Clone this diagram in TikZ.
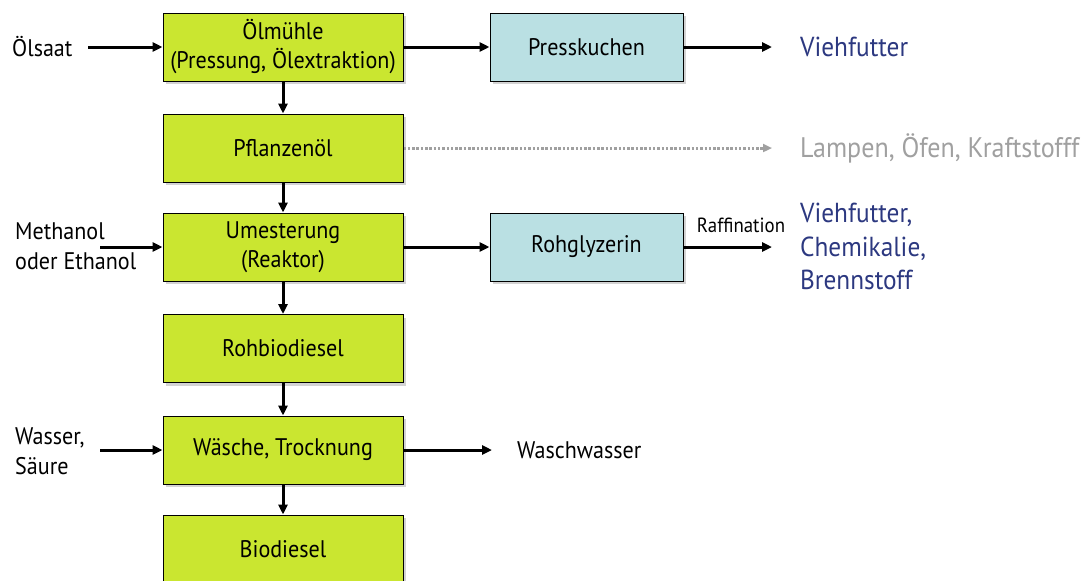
\documentclass[tikz,border=0pt]{standalone}
\usepackage{fontspec}
\setmainfont{PT Sans}[FakeStretch=0.92]
\usetikzlibrary{shadows,arrows.meta}
\definecolor{boxgreen}{RGB}{202,230,48}
\definecolor{boxblue}{RGB}{186,224,227}
\definecolor{outblue}{RGB}{44,56,128}
\definecolor{dotgray}{RGB}{160,160,160}
\tikzset{
  proc/.style={draw=black, line width=1pt, fill=boxgreen, minimum width=240pt, minimum height=68pt, align=center, font=\fontsize{24}{29}\selectfont, drop shadow={shadow xshift=3pt, shadow yshift=-3pt, opacity=0.35}},
  side/.style={draw=black, line width=1pt, fill=boxblue, minimum width=193pt, minimum height=68pt, align=center, font=\fontsize{24}{29}\selectfont, drop shadow={shadow xshift=3pt, shadow yshift=-3pt, opacity=0.35}},
  lbl/.style={align=left, font=\fontsize{24}{30}\selectfont, inner sep=0pt},
  outl/.style={align=left, font=\fontsize{27.5}{33.5}\selectfont, text=outblue, anchor=west, inner sep=0pt},
  flow/.style={line width=3pt, -{Triangle[length=10pt,width=9pt]}},
  dotflow/.style={line width=3pt, dotgray, dash pattern=on 2.5pt off 1.8pt, -{Triangle[length=9pt,width=8pt]}},
}
\begin{document}
\begin{tikzpicture}[x=1pt,y=-1pt]
\useasboundingbox (0,0) rectangle (1088,581);
\node[proc] (olm) at (283,47) {Ölmühle\\(Pressung, Ölextraktion)};
\node[proc] (pfl) at (283,148) {Pflanzenöl};
\node[proc] (ume) at (283,247) {Umesterung\\(Reaktor)};
\node[proc] (roh) at (283,348.5) {Rohbiodiesel};
\node[proc] (was) at (283,450) {Wäsche, Trocknung};
\node[proc] (bio) at (283,549) {Biodiesel};
\node[side] (pre) at (586.5,47) {Presskuchen};
\node[side] (gly) at (586.5,247) {Rohglyzerin};

\node[lbl, anchor=west] (olsaat) at (12,47) {Ölsaat};
\node[lbl, anchor=west] (meth) at (15,246) {Methanol\\oder Ethanol};
\node[lbl, anchor=west] (wass) at (15,451) {Wasser,\\Säure};
\node[lbl, anchor=west] (wwas) at (517,450) {Waschwasser};
\node[outl] (vieh1) at (800,47) {Viehfutter};
\node[outl, text=dotgray, font=\fontsize{28.3}{33.5}\selectfont] (lamp) at (800,148) {Lampen, Öfen, Kraftstofff};
\node[outl, anchor=north west] (vieh2) at (800,203) {Viehfutter,\\Chemikalie,\\Brennstoff};

\coordinate (a1) at (88,47);
\coordinate (a2) at (100,247);
\coordinate (a3) at (100,450);
\coordinate (e1) at (772,47);
\coordinate (e2) at (772,148);
\coordinate (e3) at (772,247);
\coordinate (e4) at (492,450);

\draw[flow] (a1) -- (olm.west);
\draw[flow] (a2) -- (ume.west);
\draw[flow] (a3) -- (was.west);
\draw[flow] (olm.east) -- (pre.west);
\draw[flow] (ume.east) -- (gly.west);
\draw[flow] (was.east) -- (e4);
\draw[flow] (pre.east) -- (e1);
\draw[flow] (gly.east) -- (e3);
\node[font=\fontsize{20.5}{24}\selectfont, inner sep=0pt] (raff) at (741,225) {Raffination};
\draw[dotflow] (pfl.east) -- (e2);
\draw[flow] (olm.south) -- (pfl.north);
\draw[flow] (pfl.south) -- (ume.north);
\draw[flow] (ume.south) -- (roh.north);
\draw[flow] (roh.south) -- (was.north);
\draw[flow] (was.south) -- (bio.north);
\end{tikzpicture}
\end{document}
